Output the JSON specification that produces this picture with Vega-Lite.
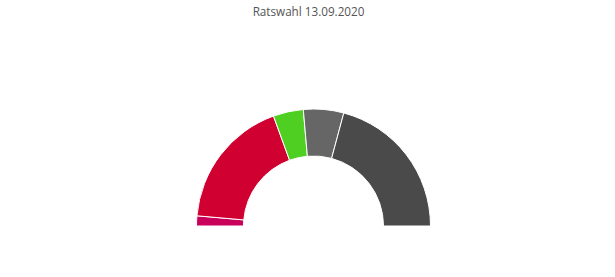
{
  "$schema": "https://vega.github.io/schema/vega-lite/v6.json",
  "autosize": {"type": "none"},
  "width": 603,
  "height": 102,
  "padding": {"left": 12, "top": 175, "right": 0, "bottom": 0},
  "background": "white",
  "title": {
    "text": "Ratswahl 13.09.2020",
    "font": "Open Sans",
    "fontSize": 11.7,
    "fontWeight": "normal",
    "color": "#555555",
    "anchor": "middle",
    "baseline": "alphabetic",
    "offset": 79,
    "dx": -5
  },
  "data": {
    "values": [
      {"partei": "A", "sitze": 1, "ord": 1, "farbe": "#c8005a"},
      {"partei": "B", "sitze": 13, "ord": 2, "farbe": "#d00030"},
      {"partei": "C", "sitze": 3, "ord": 3, "farbe": "#4fcf22"},
      {"partei": "D", "sitze": 4, "ord": 4, "farbe": "#666666"},
      {"partei": "E", "sitze": 15, "ord": 5, "farbe": "#4a4a4a"}
    ]
  },
  "mark": {"type": "arc", "radius": 117, "radius2": 70, "stroke": "white", "strokeWidth": 1},
  "encoding": {
    "theta": {"field": "sitze", "type": "quantitative", "stack": true, "scale": {"range": [-1.5708, 1.5708]}},
    "order": {"field": "ord", "type": "quantitative"},
    "color": {"field": "farbe", "type": "nominal", "scale": null, "legend": null}
  },
  "config": {"view": {"stroke": null}}
}
